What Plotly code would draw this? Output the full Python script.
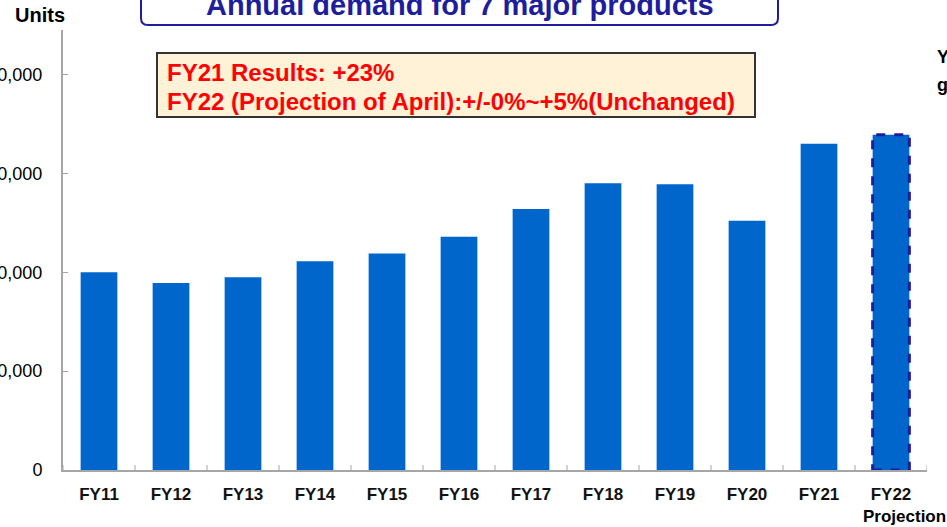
import plotly.graph_objects as go

categories = ["FY11", "FY12", "FY13", "FY14", "FY15", "FY16", "FY17", "FY18", "FY19", "FY20", "FY21", "FY22"]
values = [20000, 18900, 19500, 21100, 21900, 23600, 26400, 29000, 28900, 25200, 33000, 33900]
ytick_vals = [0, 10000, 20000, 30000, 40000]
ytick_text = ["0", "10,000", "20,000", "30,000", "40,000"]
title_text = "Annual demand for 7 major products"
box_lines = ["FY21 Results: +23%", "FY22 (Projection of April):+/-0%~+5%(Unchanged)"]

W, H = 947, 527
L, R, T, B = 63, 927, 30, 470
BAR_W = 0.51
BLUE = "#0066CC"
NAVY = "#1E1E9C"
FONT = "Liberation Sans, Arial, sans-serif"

def xp(px):
    return (px - L) / (R - L)

def yp(py):
    return (B - py) / (B - T)

fig = go.Figure(go.Bar(
    x=list(range(len(categories))), y=values, width=BAR_W,
    marker=dict(color=BLUE, line=dict(width=0)),
))

shapes = []
n = len(categories) - 1
shapes.append(dict(type="rect", xref="x", yref="y", x0=n - BAR_W / 2, x1=n + BAR_W / 2,
                   y0=0, y1=values[-1], line=dict(color=NAVY, width=3, dash="dash"),
                   fillcolor="rgba(0,0,0,0)"))
x0, x1, yb, ytop, r = 141, 778, 25, -10, 7
path = (f"M {xp(x0)} {yp(ytop)} L {xp(x0)} {yp(yb - r)} "
        f"Q {xp(x0)} {yp(yb)} {xp(x0 + r)} {yp(yb)} "
        f"L {xp(x1 - r)} {yp(yb)} Q {xp(x1)} {yp(yb)} {xp(x1)} {yp(yb - r)} "
        f"L {xp(x1)} {yp(ytop)}")
shapes.append(dict(type="path", xref="paper", yref="paper", path=path,
                   line=dict(color=NAVY, width=2), fillcolor="white"))
shapes.append(dict(type="rect", xref="paper", yref="paper", x0=xp(157), x1=xp(755),
                   y0=yp(117), y1=yp(53), fillcolor="#FFF2D6",
                   line=dict(color="#333333", width=2)))

annotations = [
    dict(text="<b>" + title_text + "</b>", xref="paper", yref="paper", x=xp(460), y=yp(5),
         xanchor="center", yanchor="middle", showarrow=False,
         font=dict(family=FONT, size=29, color=NAVY)),
    dict(text="<b>Units</b>", xref="paper", yref="paper", x=xp(13), y=yp(15),
         xanchor="left", yanchor="middle", showarrow=False,
         font=dict(family=FONT, size=20, color="black")),
    dict(text="<b>" + box_lines[0] + "</b>", xref="paper", yref="paper", x=xp(165), y=yp(72),
         xanchor="left", yanchor="middle", showarrow=False,
         font=dict(family=FONT, size=24, color="#FF0000")),
    dict(text="<b>" + box_lines[1] + "</b>", xref="paper", yref="paper", x=xp(165), y=yp(101),
         xanchor="left", yanchor="middle", showarrow=False,
         font=dict(family=FONT, size=24, color="#FF0000")),
    dict(text="<b>Projection</b>", xref="paper", yref="paper", x=xp(861), y=yp(516),
         xanchor="left", yanchor="middle", showarrow=False,
         font=dict(family=FONT, size=17, color="black")),
    dict(text="<b>YoY</b>", xref="paper", yref="paper", x=xp(935), y=yp(57),
         xanchor="left", yanchor="middle", showarrow=False,
         font=dict(family=FONT, size=18, color="black")),
    dict(text="<b>growth</b>", xref="paper", yref="paper", x=xp(935), y=yp(85),
         xanchor="left", yanchor="middle", showarrow=False,
         font=dict(family=FONT, size=18, color="black")),
]

fig.update_layout(
    width=W, height=H,
    margin=dict(l=L, r=W - R, t=T, b=H - B, autoexpand=False),
    paper_bgcolor="white", plot_bgcolor="white",
    showlegend=False,
    shapes=shapes, annotations=annotations,
    font=dict(family=FONT),
    xaxis=dict(
        type="linear", range=[-0.5, len(categories) - 0.5],
        tickvals=list(range(len(categories))), ticktext=["<b>" + c + "</b>" for c in categories],
        showline=True, linecolor="#A6A6A6", linewidth=2, showgrid=False, zeroline=False,
        ticks="", tickfont=dict(family=FONT, size=17, color="#111111"),
        ticklabelstandoff=8, automargin=False,
    ),
    yaxis=dict(
        range=[0, 44500], tickvals=ytick_vals, ticktext=ytick_text,
        showline=True, linecolor="#A6A6A6", linewidth=2, showgrid=False, zeroline=False,
        ticks="inside", ticklen=5, tickcolor="#A6A6A6",
        tickfont=dict(family=FONT, size=18, color="black"),
        ticklabelstandoff=15, automargin=False,
    ),
)

for i in range(len(categories) + 1):
    fig.add_shape(type="line", xref="x", yref="paper", x0=i - 0.5, x1=i - 0.5,
                  y0=0, y1=5 / (B - T), line=dict(color="#A6A6A6", width=1))

fig.write_html("out.html", config={"displayModeBar": False},
               post_script="document.body.style.margin='0';document.body.style.overflow='hidden';")
